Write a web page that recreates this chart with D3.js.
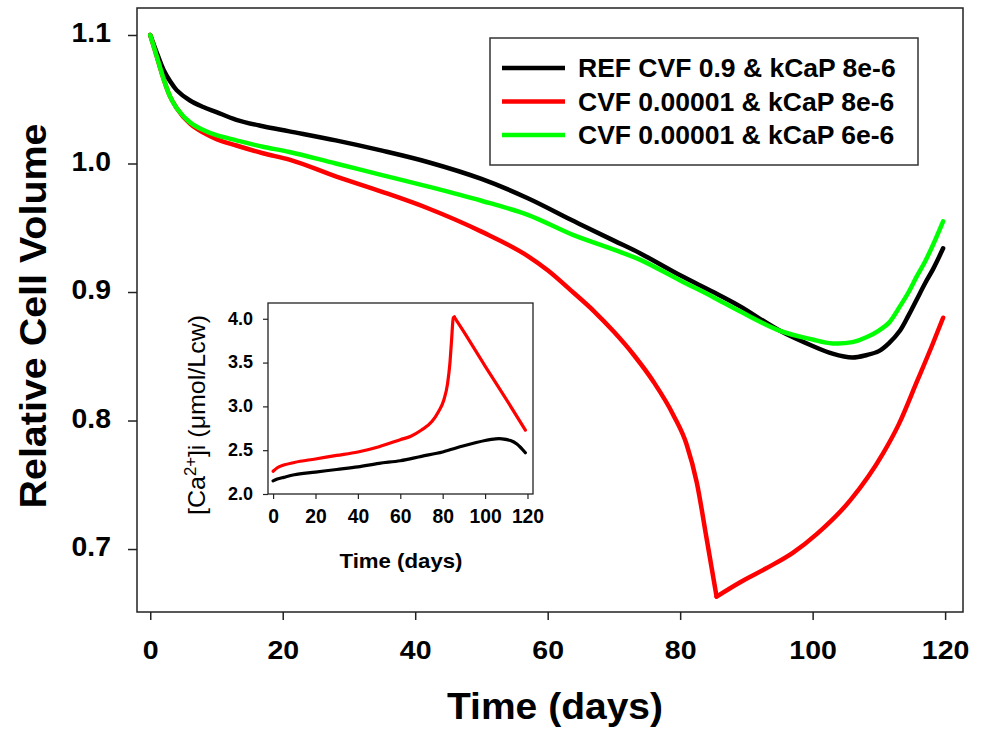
<!DOCTYPE html>
<html>
<head>
<meta charset="utf-8">
<script src="https://cdn.jsdelivr.net/npm/d3@7"></script>
<style>
  body { margin: 0; background: #fff; }
  text { font-family: "Liberation Sans", Arial, Helvetica, sans-serif; fill: #000; }
</style>
</head>
<body>
<svg id="chart" width="988" height="732"></svg>
<script>
// ---- Main panel: relative cell volume (days) ----
const volDays = [0, 1, 2, 3, 4, 6, 8, 10, 13, 17, 21, 28, 35, 42, 50, 57, 64, 70, 74, 80, 85, 89, 95, 100, 103, 106, 108.2, 110, 111.5, 113.2, 114.5, 115.7, 117, 118.2, 119.7];
const refVolume = [1.100, 1.086, 1.073, 1.064, 1.057, 1.049, 1.044, 1.040, 1.034, 1.029, 1.025, 1.018, 1.010, 1.001, 0.988, 0.973, 0.955, 0.940, 0.930, 0.913, 0.900, 0.889, 0.870, 0.858, 0.852, 0.849, 0.851, 0.854, 0.860, 0.870, 0.882, 0.894, 0.907, 0.918, 0.934];
const cvfLowKcap6Volume = [1.100, 1.083, 1.066, 1.052, 1.043, 1.032, 1.026, 1.022, 1.018, 1.013, 1.009, 1.000, 0.991, 0.982, 0.971, 0.960, 0.944, 0.933, 0.925, 0.909, 0.896, 0.885, 0.870, 0.863, 0.860, 0.861, 0.865, 0.870, 0.876, 0.889, 0.900, 0.912, 0.924, 0.937, 0.955];

const cvfLowKcap8Days = [0, 1, 2, 3, 4, 6, 8, 10, 13, 17, 21, 28, 35, 42, 50, 57, 60, 64, 67, 70, 73, 76, 79, 81, 82.5, 84, 85.5, 89, 93, 97, 100.7, 105.7, 110.7, 113, 115.8, 118, 119.7];
const cvfLowKcap8Volume = [1.100, 1.083, 1.066, 1.052, 1.043, 1.031, 1.024, 1.019, 1.014, 1.008, 1.003, 0.990, 0.978, 0.965, 0.947, 0.928, 0.917, 0.899, 0.885, 0.869, 0.851, 0.830, 0.804, 0.781, 0.752, 0.708, 0.663, 0.674, 0.685, 0.697, 0.712, 0.738, 0.775, 0.797, 0.831, 0.858, 0.880];

const seriesLabels = ["REF CVF 0.9 & kCaP 8e-6", "CVF 0.00001 & kCaP 8e-6", "CVF 0.00001 & kCaP 6e-6"];
const seriesColors = ["#000000", "#ff0000", "#00ff00"];

const volXTicks = [0, 20, 40, 60, 80, 100, 120];
const volYTicks = [0.7, 0.8, 0.9, 1.0, 1.1];

// ---- Inset: intracellular calcium ----
const caRedDays = [0, 2, 5, 10, 20, 30, 40, 50, 60, 65, 70, 75, 78, 80.5, 82.3, 83.4, 84.2, 85, 85.5, 90, 100, 110, 119];
const caRed = [2.26, 2.30, 2.33, 2.36, 2.40, 2.44, 2.48, 2.54, 2.62, 2.66, 2.73, 2.83, 2.94, 3.07, 3.26, 3.49, 3.76, 4.01, 4.02, 3.85, 3.46, 3.08, 2.73];
const caRefDays = [0, 2, 5, 10, 20, 30, 40, 50, 60, 70, 80, 90, 100, 105, 108, 112, 115, 119];
const caRef = [2.15, 2.17, 2.19, 2.22, 2.25, 2.28, 2.31, 2.35, 2.38, 2.43, 2.48, 2.55, 2.61, 2.63, 2.63, 2.61, 2.57, 2.47];

const caXTicks = [0, 20, 40, 60, 80, 100, 120];
const caYTicks = [2.0, 2.5, 3.0, 3.5, 4.0];

// ---------------------------------------------------------------
const svg = d3.select("#chart");

// Widen (or narrow) text along its run to match the lettering width
function widen(sel, factor) {
  sel.each(function () {
    const w = this.getComputedTextLength();
    d3.select(this).attr("textLength", w * factor).attr("lengthAdjust", "spacingAndGlyphs");
  });
}

const zip = (xs, ys) => xs.map((d, i) => [d, ys[i]]);
// Two monotone branches meeting at a sharp turning point
const splitAt = (pts, idx) => [pts.slice(0, idx + 1), pts.slice(idx)];

const x = d3.scaleLinear().domain([-2, 122.7]).range([137, 963]);
const y = d3.scaleLinear().domain([0.651, 1.121]).range([612, 8]);

// plot frame
svg.append("rect")
  .attr("x", x.range()[0]).attr("y", y.range()[1])
  .attr("width", x.range()[1] - x.range()[0])
  .attr("height", y.range()[0] - y.range()[1])
  .attr("fill", "#fff").attr("stroke", "#222").attr("stroke-width", 1.5);

// axes
const xAxis = svg.append("g")
  .attr("transform", `translate(0,${y.range()[0]})`)
  .call(d3.axisBottom(x).tickValues(volXTicks).tickSize(8).tickPadding(21).tickFormat(d3.format("d")));
xAxis.select(".domain").remove();
xAxis.selectAll(".tick line").attr("stroke", "#222").attr("stroke-width", 1.5);
xAxis.selectAll(".tick text")
  .attr("font-size", 25).attr("font-weight", "bold")
  .attr("font-family", "Liberation Sans, Arial, sans-serif");
widen(xAxis.selectAll(".tick text"), 1.14);

const yAxis = svg.append("g")
  .attr("transform", `translate(${x.range()[0]},0)`)
  .call(d3.axisLeft(y).tickValues(volYTicks).tickSize(9).tickPadding(17).tickFormat(d3.format(".1f")));
yAxis.select(".domain").remove();
yAxis.selectAll(".tick line").attr("stroke", "#222").attr("stroke-width", 1.5);
yAxis.selectAll(".tick text")
  .attr("font-size", 27).attr("font-weight", "bold").attr("dy", "0.25em")
  .attr("font-family", "Liberation Sans, Arial, sans-serif");
widen(yAxis.selectAll(".tick text"), 1.05);

// axis titles
svg.append("text")
  .attr("x", 555).attr("y", 719)
  .attr("text-anchor", "middle")
  .attr("font-size", 36).attr("font-weight", "bold")
  .attr("textLength", 216).attr("lengthAdjust", "spacingAndGlyphs")
  .text("Time (days)");

svg.append("text")
  .attr("transform", "translate(46,316) rotate(-90)")
  .attr("text-anchor", "middle")
  .attr("font-size", 36).attr("font-weight", "bold")
  .attr("textLength", 385).attr("lengthAdjust", "spacingAndGlyphs")
  .text("Relative Cell Volume");

// curves
const smoothLine = d3.line()
  .x(d => x(d[0])).y(d => y(d[1]))
  .curve(d3.curveCatmullRom.alpha(0.5));
const branchLine = d3.line()
  .x(d => x(d[0])).y(d => y(d[1]))
  .curve(d3.curveMonotoneX);

const lowKcap8Pts = zip(cvfLowKcap8Days, cvfLowKcap8Volume);
const volPaths = [
  { d: smoothLine(zip(volDays, refVolume)), color: seriesColors[0] },
  ...splitAt(lowKcap8Pts, d3.minIndex(cvfLowKcap8Volume))
    .map(b => ({ d: branchLine(b), color: seriesColors[1] })),
  { d: smoothLine(zip(volDays, cvfLowKcap6Volume)), color: seriesColors[2] }
];

svg.append("g").selectAll("path")
  .data(volPaths)
  .join("path")
  .attr("d", p => p.d)
  .attr("fill", "none")
  .attr("stroke", p => p.color)
  .attr("stroke-width", 4.5)
  .attr("stroke-linejoin", "round")
  .attr("stroke-linecap", "round");

// legend
const legend = svg.append("g");
legend.append("rect")
  .attr("x", 490).attr("y", 38).attr("width", 428).attr("height", 127)
  .attr("fill", "#fff").attr("stroke", "#333").attr("stroke-width", 1.5);
const legendRows = legend.selectAll("g.row")
  .data(seriesLabels)
  .join("g").attr("class", "row")
  .attr("transform", (d, i) => `translate(0,${68 + i * 33.5})`);
legendRows.append("line")
  .attr("x1", 502).attr("x2", 565).attr("y1", 0).attr("y2", 0)
  .attr("stroke", (d, i) => seriesColors[i]).attr("stroke-width", 4.5);
legendRows.append("text")
  .attr("x", 578).attr("y", 9)
  .attr("font-size", 26.5).attr("font-weight", "bold")
  .text(d => d);

// ---- Inset ----
const xi = d3.scaleLinear().domain([-2.4, 122.6]).range([268, 533]);
const yi = d3.scaleLinear().domain([2.0, 4.18]).range([494, 303]);

svg.append("rect")
  .attr("x", xi.range()[0]).attr("y", yi.range()[1])
  .attr("width", xi.range()[1] - xi.range()[0])
  .attr("height", yi.range()[0] - yi.range()[1])
  .attr("fill", "#fff").attr("stroke", "#222").attr("stroke-width", 1.3);

const xiAxis = svg.append("g")
  .attr("transform", `translate(0,${yi.range()[0]})`)
  .call(d3.axisBottom(xi).tickValues(caXTicks).tickSize(5).tickPadding(9).tickFormat(d3.format("d")));
xiAxis.select(".domain").remove();
xiAxis.selectAll(".tick line").attr("stroke", "#222").attr("stroke-width", 1.2);
xiAxis.selectAll(".tick text")
  .attr("font-size", 21).attr("font-weight", "bold")
  .attr("font-family", "Liberation Sans, Arial, sans-serif");
widen(xiAxis.selectAll(".tick text"), 0.92);

const yiAxis = svg.append("g")
  .attr("transform", `translate(${xi.range()[0]},0)`)
  .call(d3.axisLeft(yi).tickValues(caYTicks).tickSize(5).tickPadding(10).tickFormat(d3.format(".1f")));
yiAxis.select(".domain").remove();
yiAxis.selectAll(".tick line").attr("stroke", "#222").attr("stroke-width", 1.2);
yiAxis.selectAll(".tick text")
  .attr("font-size", 18).attr("font-weight", "bold").attr("dy", "0.3em")
  .attr("font-family", "Liberation Sans, Arial, sans-serif");

svg.append("text")
  .attr("x", 401).attr("y", 568)
  .attr("text-anchor", "middle")
  .attr("font-size", 21).attr("font-weight", "bold")
  .attr("textLength", 123).attr("lengthAdjust", "spacingAndGlyphs")
  .text("Time (days)");

const caTitle = svg.append("text")
  .attr("transform", "translate(205,415) rotate(-90)")
  .attr("text-anchor", "middle")
  .attr("font-size", 24)
  .attr("textLength", 200).attr("lengthAdjust", "spacingAndGlyphs");
caTitle.append("tspan").text("[Ca");
caTitle.append("tspan").attr("font-size", 16).attr("dy", -9).text("2+");
caTitle.append("tspan").attr("dy", 9).text("]i (\u03BCmol/Lcw)");

const caSmooth = d3.line()
  .x(d => xi(d[0])).y(d => yi(d[1]))
  .curve(d3.curveCatmullRom.alpha(0.5));
const caBranch = d3.line()
  .x(d => xi(d[0])).y(d => yi(d[1]))
  .curve(d3.curveMonotoneX);

const caPaths = [
  { d: caSmooth(zip(caRefDays, caRef)), color: seriesColors[0] },
  ...splitAt(zip(caRedDays, caRed), d3.maxIndex(caRed))
    .map(b => ({ d: caBranch(b), color: seriesColors[1] }))
];

svg.append("g").selectAll("path")
  .data(caPaths)
  .join("path")
  .attr("d", p => p.d)
  .attr("fill", "none")
  .attr("stroke", p => p.color)
  .attr("stroke-width", 3.2)
  .attr("stroke-linejoin", "round")
  .attr("stroke-linecap", "round");
</script>
</body>
</html>
